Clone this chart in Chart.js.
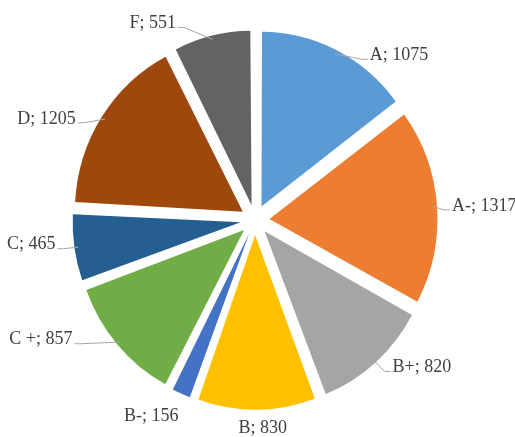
<!DOCTYPE html>
<html>
<head>
<meta charset="utf-8">
<script src="https://cdn.jsdelivr.net/npm/chart.js"></script>
<style>
  html, body { margin: 0; padding: 0; background: #fff; }
  #wrap { width: 515px; height: 437px; }
</style>
</head>
<body>
<div id="wrap"><canvas id="gradeChart"></canvas></div>
<script>
// kategóriák és értékek
const grades = ['A', 'A-', 'B+', 'B', 'B-', 'C +', 'C', 'D', 'F'];
const counts = [1075, 1317, 820, 830, 156, 857, 465, 1205, 551];

const sliceColors = ['#5B9BD5', '#ED7D31', '#A5A5A5', '#FFC000', '#4472C4',
                     '#70AD47', '#255E91', '#9E480E', '#636363'];

const RADIUS = 168;   // pie sugár
const EXPLODE = 14.5; // szeletek kihúzása px-ben
const STRETCH_Y = 1.04; // az eredeti kép kissé nyújtott függőlegesen

// címke eltolás a szelet széléhez képest: [dx, dy, igazítás, vezetővonal]
const labelNudge = [
  [33, 5, 'left', true],
  [15, 0, 'left', true],
  [17, 5, 'left', true],
  [6, 18, 'center', false],
  [-30, 23, 'center', false],
  [-45, -5, 'right', true],
  [-19, -3, 'right', true],
  [-26, 2, 'right', true],
  [-36, -12, 'right', true]
];

// v4 arc: offset/4 eltolás + sugár növekedés -> visszakompenzáljuk
const explodeFix = {
  id: 'explodeFix',
  afterDatasetUpdate(chart, args) {
    args.meta.data.forEach(arc => {
      const c = arc.endAngle - arc.startAngle;
      arc.outerRadius = RADIUS - EXPLODE * (1 - Math.sin(Math.min(Math.PI, c)));
    });
  }
};

const outLabels = {
  id: 'outLabels',
  beforeDatasetsDraw(chart) {
    const ctx = chart.ctx;
    const cy = chart.getDatasetMeta(0).data[0].y;
    ctx.save();
    ctx.translate(0, cy);
    ctx.scale(1, STRETCH_Y);
    ctx.translate(0, -cy);
  },
  afterDatasetsDraw(chart) {
    const ctx = chart.ctx;
    ctx.restore();
    const meta = chart.getDatasetMeta(0);
    ctx.save();
    ctx.font = '18px "Liberation Serif", "Times New Roman", serif';
    ctx.fillStyle = '#404040';
    ctx.strokeStyle = '#a6a6a6';
    ctx.lineWidth = 1;
    ctx.textBaseline = 'middle';
    meta.data.forEach((arc, i) => {
      const mid = (arc.startAngle + arc.endAngle) / 2;
      const r = RADIUS + EXPLODE;
      const ex = arc.x + Math.cos(mid) * r;
      const ey = arc.y + Math.sin(mid) * r * STRETCH_Y;
      const [dx, dy, align, leader] = labelNudge[i];
      const tx = ex + dx, ty = ey + dy;
      const text = grades[i] + '; ' + counts[i];
      if (leader) {
        const side = align === 'left' ? -1 : 1;
        ctx.beginPath();
        ctx.moveTo(ex - Math.cos(mid) * 4, ey - Math.sin(mid) * 4);
        ctx.lineTo(tx + side * 8, ty + 4);
        ctx.lineTo(tx + side * 2, ty + 4);
        ctx.stroke();
      }
      ctx.textAlign = align;
      ctx.fillText(text, tx, ty);
    });
    ctx.restore();
  }
};

const ctx = document.getElementById('gradeChart').getContext('2d');
new Chart(ctx, {
  type: 'pie',
  data: {
    labels: grades,
    datasets: [{
      data: counts,
      backgroundColor: sliceColors,
      borderWidth: 0,
      offset: EXPLODE * 4
    }]
  },
  options: {
    responsive: true,
    maintainAspectRatio: false,
    animation: false,
    radius: RADIUS,
    layout: { padding: { left: 0, right: 5, top: 3, bottom: 0 } },
    plugins: {
      legend: { display: false },
      tooltip: { enabled: false }
    }
  },
  plugins: [explodeFix, outLabels]
});
</script>
</body>
</html>
